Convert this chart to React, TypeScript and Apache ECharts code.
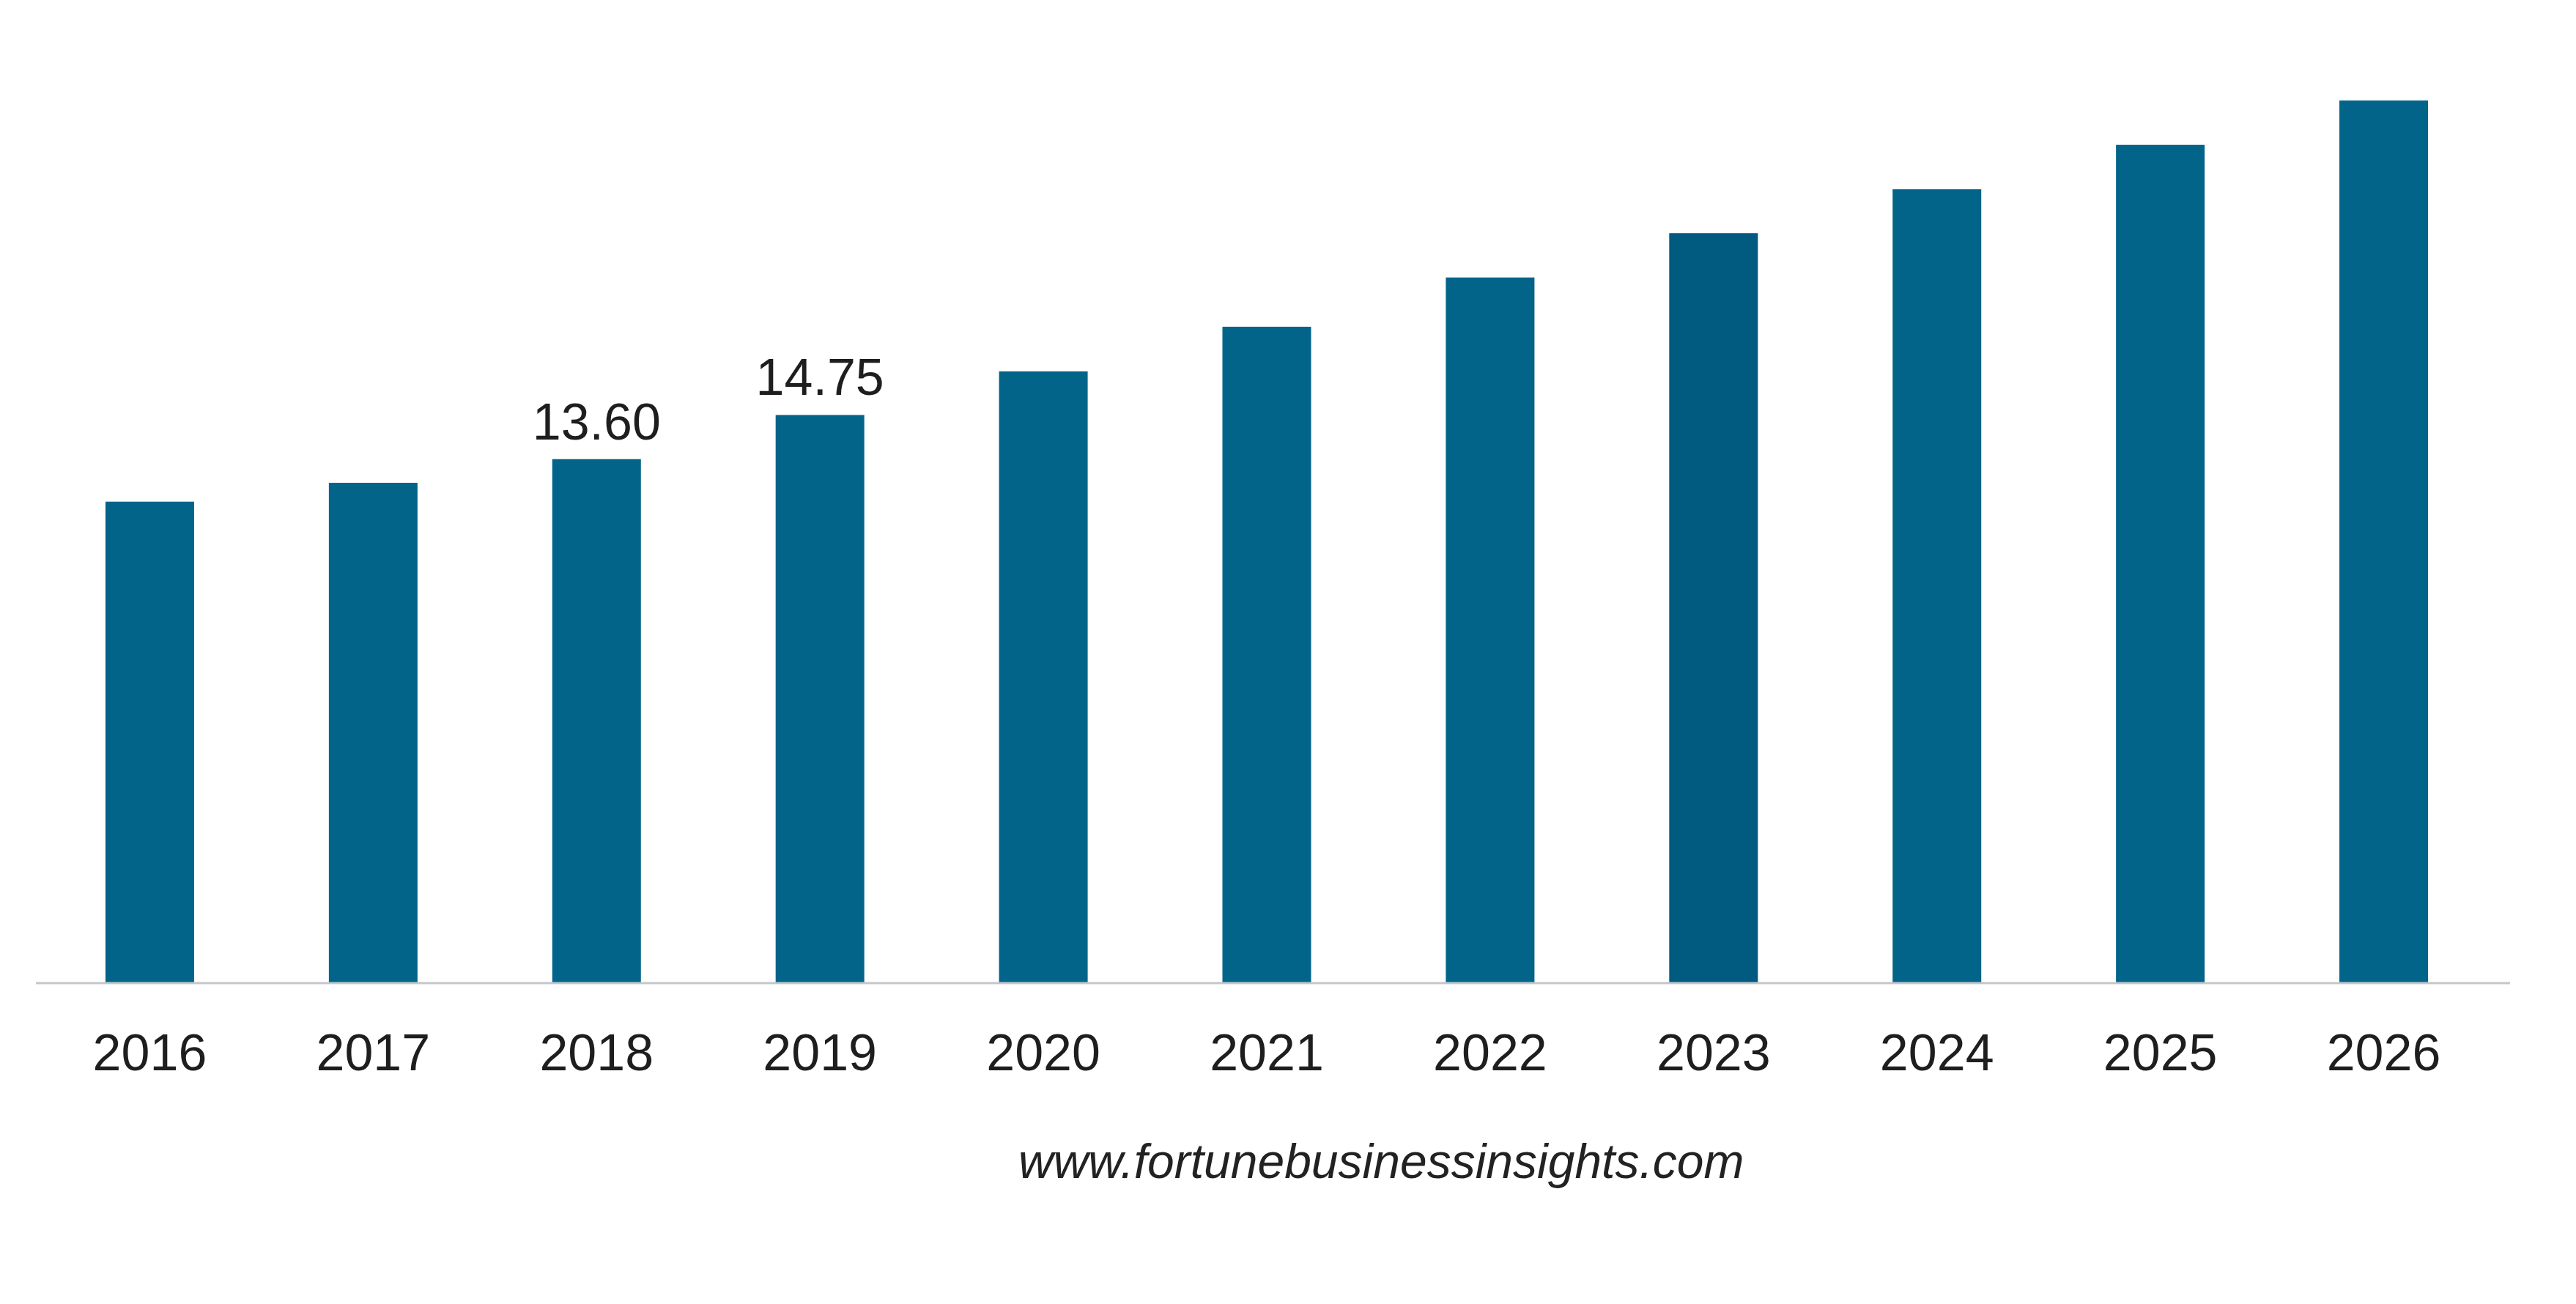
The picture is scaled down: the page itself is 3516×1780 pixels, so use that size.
import React, { useEffect, useRef } from "react";
import * as echarts from "echarts";

const years = ["2016", "2017", "2018", "2019", "2020", "2021", "2022", "2023", "2024", "2025", "2026"];
const marketValues = [12.5, 12.99, 13.6, 14.75, 15.88, 17.04, 18.32, 19.47, 20.61, 21.76, 22.91];
const labeledYears = ["2018", "2019"];
const watermark = "www.fortunebusinessinsights.com";

export default function App() {
  const ref = useRef<HTMLDivElement>(null);
  useEffect(() => {
    if (!ref.current) return;
    const chart = echarts.init(ref.current, undefined, { renderer: "svg" });
    const baseColor = "#03648a";
    const darkColor = "#015a80";
    const font = "Liberation Sans, Arial, sans-serif";
    chart.setOption({
      animation: false,
      backgroundColor: "#ffffff",
      grid: { left: 52, right: 110, top: 80, bottom: 438, containLabel: false },
      xAxis: {
        type: "category",
        data: years,
        axisLine: { show: false },
        axisTick: { show: false },
        axisLabel: {
          margin: 60,
          fontSize: 70,
          fontFamily: font,
          color: "#1e1e1e",
        },
      },
      yAxis: {
        type: "value",
        min: 0,
        max: 24,
        show: false,
        splitLine: { show: false },
      },
      series: [
        {
          type: "bar",
          barWidth: 121,
          data: marketValues.map((v, i) => ({
            value: v,
            label: { show: labeledYears.includes(years[i]) },
          })),
          itemStyle: {
            color: (p: any) => (p.name === "2023" ? darkColor : baseColor),
          },
          label: {
            position: "top",
            distance: 16,
            fontSize: 70,
            fontFamily: font,
            color: "#1e1e1e",
            formatter: (p: any) => Number(p.value).toFixed(2),
          },
        },
      ],
      graphic: [
        {
          type: "line",
          z: 10,
          shape: { x1: 49, y1: 1342, x2: 3426, y2: 1342 },
          style: { stroke: "#c3c7cb", lineWidth: 3 },
        },
        {
          type: "text",
          left: 1390,
          top: 1552,
          style: {
            text: watermark,
            fontSize: 66,
            fontStyle: "italic",
            fontFamily: font,
            fill: "#222222",
          },
        },
      ],
    });
    return () => chart.dispose();
  }, []);
  return (
    <div
      ref={ref}
      style={{ position: "fixed", left: 0, top: 0, width: 3516, height: 1780, background: "#fff" }}
    />
  );
}
